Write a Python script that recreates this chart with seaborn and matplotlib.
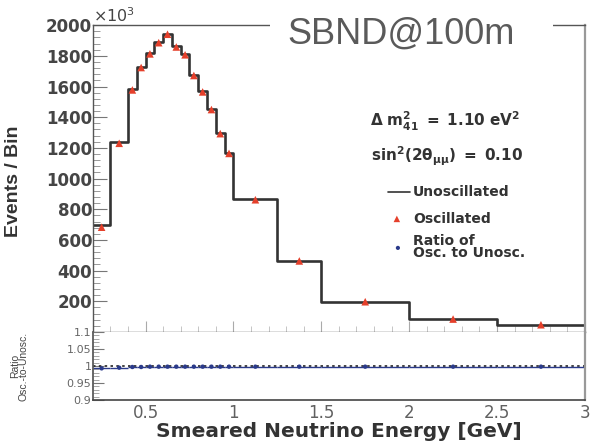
import numpy as np
import pandas as pd
import matplotlib
matplotlib.use("Agg")
import matplotlib.pyplot as plt
from matplotlib.patches import Rectangle
from matplotlib.ticker import MultipleLocator, FixedLocator, FixedFormatter
import seaborn as sns

# ---------------- data ----------------
bin_edges = [0.2, 0.3, 0.4, 0.45, 0.5, 0.55, 0.6, 0.65, 0.7, 0.75, 0.8,
             0.85, 0.9, 0.95, 1.0, 1.25, 1.5, 2.0, 2.5, 3.0]
unoscillated = [695, 1240, 1585, 1730, 1818, 1890, 1945, 1862, 1811, 1676,
                1568, 1453, 1296, 1166, 865, 465, 198, 85, 48]
oscillated = [683, 1230, 1578, 1724, 1813, 1886, 1941, 1858, 1807, 1672,
              1565, 1450, 1293, 1164, 862, 463, 197, 84, 47]
ratio = [0.993, 0.995, 0.997, 0.997, 0.998, 0.998, 0.998, 0.998, 0.998, 0.998,
         0.998, 0.998, 0.998, 0.998, 0.998, 0.998, 0.998, 0.998, 0.998]
upper_yticks = [200, 400, 600, 800, 1000, 1200, 1400, 1600, 1800, 2000]
lower_yticks = [0.9, 0.95, 1.0, 1.05, 1.1]
lower_yticklabels = ["0.9", "0.95", "1", "1.05", "1.1"]
xticks = [0.5, 1.0, 1.5, 2.0, 2.5, 3.0]
xticklabels = ["0.5", "1", "1.5", "2", "2.5", "3"]

edges = np.array(bin_edges)
centers = 0.5 * (edges[:-1] + edges[1:])
halfw = 0.5 * (edges[1:] - edges[:-1])
df = pd.DataFrame({"E": centers, "N": unoscillated, "Osc": oscillated, "R": ratio})

sns.set_theme(style="white")
plt.rcParams['font.family'] = ['DejaVu Sans']
plt.rcParams['mathtext.fontset'] = 'dejavusans'

fig = plt.figure(figsize=(5.95, 4.42), dpi=100)
ax1 = fig.add_axes([0.156, 0.249, 0.827, 0.694])
ax2 = fig.add_axes([0.156, 0.095, 0.827, 0.154], sharex=ax1)

line_col = "#333333"
tick_col = "#454545"
narrow = ['Liberation Sans', 'DejaVu Sans']

# ---- upper panel ----
sns.histplot(data=df, x="E", weights="N", bins=bin_edges, element="step",
             fill=False, color=line_col, linewidth=1.9, ax=ax1)
sns.scatterplot(data=df, x="E", y="Osc", marker="^", color="#e5402b",
                s=30, edgecolor="none", ax=ax1, zorder=5)
ax1.set_xlim(0.2, 3.0)
ax1.set_ylim(0, 2000)
ax1.yaxis.set_major_locator(FixedLocator(upper_yticks))
ax1.yaxis.set_minor_locator(MultipleLocator(40))
ax1.xaxis.set_major_locator(FixedLocator(xticks))
ax1.xaxis.set_minor_locator(MultipleLocator(0.1))
ax1.tick_params(axis="y", which="major", direction="in", length=10, width=0.8,
                color="#777777", labelsize=12, labelcolor=tick_col, pad=0.5, left=True)
ax1.tick_params(axis="y", which="minor", direction="in", length=5, width=0.6,
                color="#888888", left=True)
ax1.tick_params(axis="x", which="major", direction="in", length=8, width=0.8,
                color="#aaaaaa", labelbottom=False, bottom=True)
ax1.tick_params(axis="x", which="minor", direction="in", length=4, width=0.6,
                color="#bbbbbb", bottom=True)
for lab in ax1.get_yticklabels():
    lab.set_fontweight("bold")
ax1.set_xlabel("")
ax1.set_ylabel("Events / Bin", fontsize=14, fontweight="bold", color="#333333",
               family=narrow)
ax1.yaxis.set_label_coords(-0.144, 0.49)
for s in ["left", "top", "bottom"]:
    ax1.spines[s].set_color("#555555")
    ax1.spines[s].set_linewidth(1.0)
ax1.spines["right"].set_color("#999999")
ax1.spines["right"].set_linewidth(1.6)

ax1.text(0.0, 1.0, r"$\times10^{3}$", transform=ax1.transAxes, fontsize=11.5,
         color="#444444", ha="left", va="bottom")
ax1.add_patch(Rectangle((0.36, 0.955), 0.575, 0.09, transform=ax1.transAxes,
                        facecolor="white", edgecolor="none", clip_on=False, zorder=3))
ax1.text(0.396, 0.941, "SBND@100m", transform=ax1.transAxes, fontsize=26,
         color="#5a5a5a", ha="left", va="baseline", family=narrow, zorder=4)

ax1.text(2.203, 1370, r"$\mathbf{\Delta\ m^2_{41}\ =\ 1.10\ eV^2}$", fontsize=11,
         ha="center", va="center", color="#333333")
ax1.text(2.215, 1148, r"$\mathbf{sin^2(2\theta_{\mu\mu})\ =\ 0.10}$", fontsize=11,
         ha="center", va="center", color="#333333")
ax1.plot([1.879, 2.004], [913, 913], color=line_col, lw=1.2)
ax1.text(2.021, 913, "Unoscillated", fontsize=10, fontweight="bold",
         color="#333333", va="center")
ax1.scatter([1.930], [737], marker="^", color="#e5402b", s=22, edgecolor="none")
ax1.text(2.021, 737, "Oscillated", fontsize=10, fontweight="bold",
         color="#333333", va="center")
ax1.scatter([1.936], [548], marker="o", color="#2a3a8a", s=9, edgecolor="none")
ax1.text(2.021, 554, "Ratio of\nOsc. to Unosc.", fontsize=10, fontweight="bold",
         color="#333333", va="center", linespacing=0.8)

# ---- lower panel ----
ax2.axhline(1.0, color="#222222", ls=(0, (1.5, 2)), lw=1.2, zorder=1)
ax2.errorbar(centers, ratio, xerr=halfw, fmt="none", ecolor="#2a3a8a",
             elinewidth=1.0, zorder=2)
sns.scatterplot(data=df, x="E", y="R", marker="o", color="#2a3a8a", s=10,
                edgecolor="none", ax=ax2, zorder=3)
ax2.set_ylim(0.9, 1.1)
ax2.yaxis.set_major_locator(FixedLocator(lower_yticks))
ax2.yaxis.set_major_formatter(FixedFormatter(lower_yticklabels))
ax2.yaxis.set_minor_locator(MultipleLocator(0.01))
ax2.xaxis.set_major_formatter(FixedFormatter(xticklabels))
ax2.tick_params(axis="y", which="major", direction="in", length=8, width=0.8,
                color="#777777", labelsize=8, labelcolor="#666666", pad=1, left=True)
ax2.tick_params(axis="y", which="minor", direction="in", length=4, width=0.6,
                color="#999999", left=True)
ax2.tick_params(axis="x", which="major", direction="in", length=0,
                labelsize=12, labelcolor="#606060", pad=3, bottom=True)
ax2.tick_params(axis="x", which="minor", length=0)
ax2.set_ylabel("Ratio\nOsc.-to-Unosc.", fontsize=7.5, color="#444444",
               linespacing=0.9, family=narrow)
ax2.yaxis.set_label_coords(-0.13, 0.5)
ax2.set_xlabel("Smeared Neutrino Energy [GeV]", fontsize=14.5, fontweight="bold",
               color="#333333", labelpad=0)
ax2.spines["top"].set_visible(False)
ax2.spines["left"].set_color("#555555")
ax2.spines["bottom"].set_color("#444444")
ax2.spines["bottom"].set_linewidth(1.2)
ax2.spines["right"].set_color("#999999")
ax2.spines["right"].set_linewidth(1.6)
ax2.set_xlim(0.2, 3.0)

fig.savefig("out.png", dpi=100)
